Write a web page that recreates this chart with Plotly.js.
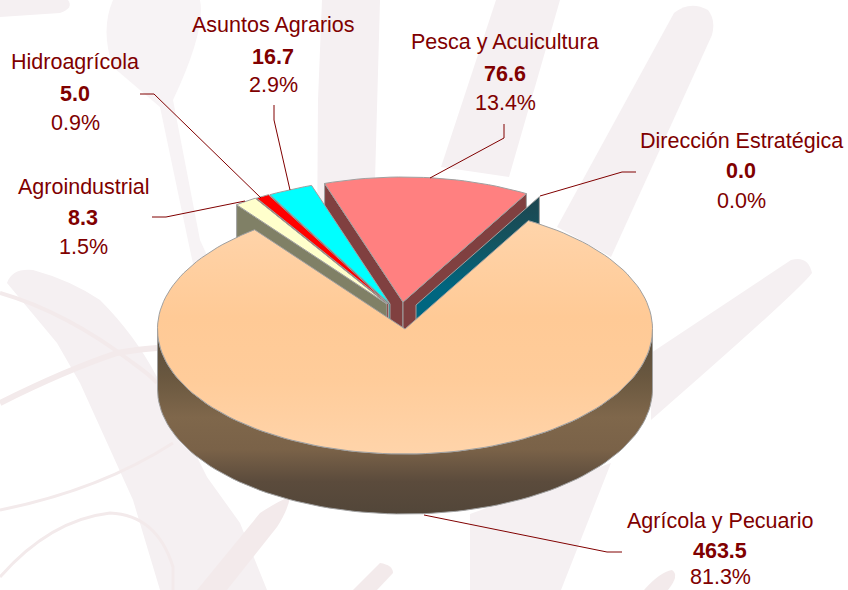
<!DOCTYPE html>
<html>
<head>
<meta charset="utf-8">
<script src="https://cdn.plot.ly/plotly-3.0.1.min.js"></script>
<style>html,body{margin:0;padding:0;background:#fff}#chart{width:848px;height:590px}</style>
</head>
<body>
<div id="chart"></div>
<script>
// ---- data, clockwise from the Agrícola slice ----
const categories = ['Agrícola y Pecuario', 'Agroindustrial', 'Hidroagrícola', 'Asuntos Agrarios', 'Pesca y Acuicultura', 'Dirección Estratégica'];
const values = [463.5, 8.3, 5.0, 16.7, 76.6, 0.0];
const valueLabels = ['463.5', '8.3', '5.0', '16.7', '76.6', '0.0'];
const percentLabels = ['81.3%', '1.5%', '0.9%', '2.9%', '13.4%', '0.0%'];
const topColors = ['#FFCC99', '#FFFFCC', '#FF0000', '#00FFFF', '#FF8080', '#006680'];
const wallColors = ['#7F674B', '#808066', '#800000', '#007F80', '#804040', '#006680'];

// ---- drawing geometry (pixel-scale axes) ----
const RX = 247.5, RY = 125, DEPTH = 60, START = 29.9;
const apexX = [405, 387, 388.5, 390, 403, 416];
const apexY = [329, 304, 304, 304, 302, 305];
const labelX = [720, 83, 75, 273, 505, 741];
const labelY = [[521, 551, 577], [187, 218, 247], [62, 94, 123], [25, 57, 85], [42, 74, 103], [141, 171, 201]];
const leadersX = [[622, 607, 424], [152, 166, 245], [140, 154, 261], [274, 274, 290], [504, 504, 430], [636, 622, 540]];
const leadersY = [[552, 552, 515], [217, 217, 201], [94, 94, 198], [105, 120, 190], [124, 138, 178], [172, 172, 196]];

const EDGE = '#A0A0A0', TEXT = '#800000';
const total = values.reduce((a, b) => a + b, 0);
const bounds = [START];
values.forEach((v, i) => bounds.push(bounds[i] + v / total * 360));

function pt(cx, cy, deg) {
  const r = deg * Math.PI / 180;
  return [cx + RX * Math.sin(r), cy - RY * Math.cos(r)];
}
function poly(xs, ys, fill, extra) {
  return Object.assign({
    type: 'scatter', mode: 'lines', x: xs, y: ys, fill: 'toself', fillcolor: fill,
    line: {color: EDGE, width: 1}, hoverinfo: 'skip', showlegend: false
  }, extra || {});
}
function sector(i) {
  const xs = [apexX[i]], ys = [apexY[i]];
  const a0 = bounds[i], a1 = bounds[i + 1];
  const n = Math.max(2, Math.ceil((a1 - a0) / 2));
  for (let k = 0; k <= n; k++) {
    const p = pt(apexX[i], apexY[i], a0 + (a1 - a0) * k / n);
    xs.push(p[0]); ys.push(p[1]);
  }
  xs.push(apexX[i]); ys.push(apexY[i]);
  return poly(xs, ys, topColors[i], {name: categories[i]});
}
function cutWall(i, deg, colour, extra) {
  const p = pt(apexX[i], apexY[i], deg);
  return poly([p[0], apexX[i], apexX[i], p[0], p[0]],
              [p[1], apexY[i], apexY[i] + DEPTH, p[1] + DEPTH, p[1]], colour, extra);
}
function outerWall() {
  const xs = [], ys = [];
  for (let a = 90; a <= 270; a += 2) { const p = pt(apexX[0], apexY[0], a); xs.push(p[0]); ys.push(p[1]); }
  for (let a = 270; a >= 90; a -= 2) { const p = pt(apexX[0], apexY[0], a); xs.push(p[0]); ys.push(p[1] + DEPTH); }
  xs.push(xs[0]); ys.push(ys[0]);
  return poly(xs, ys, wallColors[0], {
    fillgradient: {type: 'vertical', start: 335, stop: 514, colorscale: [
      [0, '#5A4E3E'], [0.23, '#69573F'], [0.46, '#7F674B'], [0.64, '#7A6248'], [0.82, '#5B4B3C'], [1, '#524639']]}
  });
}

const traces = [];
traces.push(outerWall());
traces.push(cutWall(4, bounds[4], wallColors[4]));
traces.push(cutWall(4, bounds[5], wallColors[4]));
traces.push(cutWall(5, bounds[5], wallColors[5], {
  fillgradient: {type: 'vertical', start: 196, stop: 320, colorscale: [[0, '#1D4650'], [0.35, '#14535F'], [0.75, '#006680'], [1, '#006680']]}
}));
traces.push(sector(4));
[3, 2, 1].forEach(i => { traces.push(cutWall(i, bounds[i], wallColors[i])); traces.push(sector(i)); });
const main = sector(0);
main.fillgradient = {type: 'vertical', start: 205, stop: 454, colorscale: [
  [0, '#FFD6AE'], [0.45, '#FFCA96'], [0.7, '#FFCC9A'], [1, '#FFD4AA']]};
traces.push(main);

leadersX.forEach((xs, i) => traces.push({
  type: 'scatter', mode: 'lines', x: xs, y: leadersY[i],
  line: {color: TEXT, width: 1}, hoverinfo: 'skip', showlegend: false
}));

const annotations = [];
categories.forEach((c, i) => {
  const rows = [c, '<b>' + valueLabels[i] + '</b>', percentLabels[i]];
  rows.forEach((t, k) => annotations.push({
    x: labelX[i], y: labelY[i][k], xref: 'x', yref: 'y', text: t, showarrow: false,
    xanchor: 'center', yanchor: 'middle',
    font: {family: 'Liberation Sans, Arial, sans-serif', size: 21.5, color: TEXT}
  }));
});

// faint brush-stroke watermark behind the chart
const WM = '#F7F3F5', WM1 = '#F5F0F2', WM2 = '#F3EAEB';
const fillShape = (path, c) => ({type: 'path', layer: 'below', path, fillcolor: c || WM, line: {width: 0}});
const lineShape = (path, w, c) => ({type: 'path', layer: 'below', path, line: {color: c || WM2, width: w}});
const shapes = [
  fillShape('M0,0 L68,0 Q74,8 60,13 L0,17 Z', WM1),
  fillShape('M113,0 L200,0 Q206,30 173,100 L200,240 L225,295 L200,295 L190,250 L160,107 L140,90 L113,67 Q100,30 113,0 Z'),
  fillShape('M322,0 L380,0 L375,180 L372,220 L317,250 L318,100 Z', WM1),
  fillShape('M496,0 L560,0 L509,177 L441,167 Z', WM1),
  fillShape('M674,13 Q690,0 708,10 Q716,20 712,35 L611,257 L557,227 Z', WM1),
  fillShape('M791,260 Q808,255 812,273 Q800,290 651,420 L651,353 Z', WM1),
  fillShape('M611,463 L561,590 L470,590 L470,514 Z', WM1),
  // wide band, upper left to the bottom
  fillShape('M7,283 Q12,268 33,270 Q70,280 100,300 Q135,335 157,377 L207,477 L240,523 L267,590 L160,590 L133,500 L80,383 L57,343 Z', WM1),
  fillShape('M197,590 L260,513 Q280,500 290,497 Q288,510 277,527 L227,590 Z', WM2),
  fillShape('M353,590 L380,563 Q393,565 393,573 L377,590 Z', WM2),
  fillShape('M644,590 Q660,572 672,570 Q680,575 668,590 Z', WM2),
  lineShape('M0,293 Q66,312 133,363 Q150,375 157,383', 4),
  lineShape('M0,403 Q66,370 117,353 Q140,349 157,348', 6),
  lineShape('M0,510 Q100,490 173,443', 3),
  lineShape('M0,577 Q50,520 110,513 Q157,515 173,567 L173,590', 3)
];

Plotly.newPlot('chart', traces, {
  width: 848, height: 590,
  margin: {l: 0, r: 0, t: 0, b: 0},
  paper_bgcolor: '#FFFFFF', plot_bgcolor: 'rgba(0,0,0,0)',
  xaxis: {range: [0, 848], visible: false, fixedrange: true},
  yaxis: {range: [590, 0], visible: false, fixedrange: true},
  showlegend: false, annotations, shapes
}, {displayModeBar: false, staticPlot: true});
</script>
</body>
</html>
